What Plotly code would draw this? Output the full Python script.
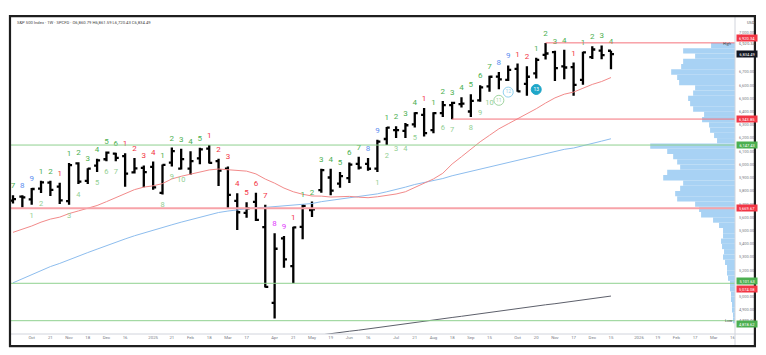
import plotly.graph_objects as go
import pandas as pd

# ---------------- data ----------------
weeks = pd.date_range("2024-09-23", periods=65, freq="7D")

opens = [5727, 5757, 5737, 5817, 5863, 5833, 5723, 6009, 5877, 5992,
         6040, 6083, 6063, 5941, 5974, 5982, 5786, 6014, 5969, 5969,
         6046, 6121, 6026, 5969, 5725, 5635, 5718, 5527, 4953, 5441,
         5232, 5529, 5655, 5807, 5902, 5855, 5897, 6005, 6005, 5969,
         6193, 6260, 6255, 6304, 6376, 6261, 6389, 6449, 6457, 6401,
         6485, 6591, 6665, 6641, 6723, 6610, 6690, 6830, 6850, 6742,
         6737, 6640, 6812, 6862, 6860.79]
highs = [5767, 5767, 5822, 5878, 5878, 5863, 6012, 6017, 5972, 6044,
         6099, 6089, 6085, 6049, 5993, 6022, 6000, 6128, 6120, 6101,
         6127, 6147, 6044, 5986, 5783, 5715, 5786, 5695, 5481, 5459,
         5529, 5700, 5720, 5969, 5968, 5944, 6016, 6059, 6050, 6187,
         6284, 6290, 6315, 6395, 6427, 6395, 6481, 6474, 6509, 6532,
         6600, 6671, 6699, 6750, 6764, 6744, 6807, 6920, 6860, 6869,
         6771, 6853, 6895, 6901, 6861.59]
lows = [5705, 5674, 5696, 5784, 5762, 5702, 5696, 5853, 5853, 5944,
        6024, 6024, 5832, 5932, 5829, 5809, 5773, 5986, 5962, 5923,
        6003, 6008, 5837, 5666, 5505, 5598, 5572, 5069, 4835, 5220,
        5101, 5434, 5603, 5786, 5767, 5824, 5861, 5963, 5953, 5943,
        6147, 6201, 6201, 6281, 6212, 6236, 6360, 6343, 6431, 6360,
        6475, 6551, 6569, 6631, 6550, 6520, 6651, 6795, 6631, 6646,
        6521, 6603, 6799, 6797, 6720.43]
closes = [5738, 5751, 5815, 5865, 5808, 5729, 5996, 5870, 5969, 6032,
          6090, 6051, 5931, 5971, 5942, 5827, 5997, 6101, 6041, 6026,
          6115, 6013, 5955, 5770, 5639, 5668, 5581, 5074, 5363, 5283,
          5525, 5687, 5660, 5958, 5803, 5912, 6000, 5977, 5968, 6173,
          6279, 6260, 6297, 6389, 6238, 6389, 6450, 6467, 6460, 6482,
          6584, 6664, 6644, 6716, 6553, 6664, 6792, 6840, 6729, 6734,
          6603, 6849, 6870, 6827, 6834.49]

ma20 = [5487, 5509, 5535, 5564, 5587, 5602, 5629, 5649, 5669, 5690,
        5719, 5749, 5778, 5810, 5829, 5839, 5856, 5891, 5911, 5928,
        5946, 5959, 5966, 5962, 5953, 5950, 5929, 5890, 5859, 5822,
        5794, 5775, 5762, 5761, 5754, 5759, 5759, 5753, 5749, 5756,
        5764, 5777, 5794, 5825, 5855, 5891, 5934, 6004, 6059, 6119,
        6172, 6221, 6270, 6308, 6345, 6383, 6422, 6465, 6504, 6532,
        6548, 6577, 6606, 6628, 6658]
ma50 = [5105, 5136, 5170, 5200, 5228, 5252, 5281, 5306, 5334, 5360,
        5387, 5412, 5437, 5461, 5483, 5502, 5522, 5544, 5564, 5583,
        5603, 5621, 5637, 5648, 5656, 5665, 5674, 5676, 5682, 5685,
        5691, 5698, 5705, 5719, 5728, 5738, 5749, 5759, 5767, 5778,
        5794, 5810, 5829, 5849, 5863, 5878, 5894, 5915, 5932, 5948,
        5965, 5983, 5999, 6016, 6031, 6050, 6066, 6085, 6101, 6115,
        6125, 6141, 6160, 6177, 6195]
ma200 = [None] * 30 + [4683, 4693, 4701, 4712, 4720, 4730, 4739, 4747, 4757, 4768,
                       4777, 4785, 4796, 4806, 4814, 4824, 4835, 4843, 4852, 4862,
                       4873, 4881, 4890, 4901, 4910, 4918, 4929, 4939, 4947, 4956,
                       4967, 4977, 4985, 4995, 5005]

setup_text = ["7", "8", "9", "1", "2", "1", "1", "2", "3", "4",
              "5", "6", "1", "2", "3", "4", "1", "2", "3", "4",
              "5", "1", "2", "3", "4", "5", "6", "7", "8", "9",
              "1", "1", "2", "3", "4", "5", "6", "7", "8", "9",
              "1", "2", "3", "4", "1", "1", "2", "3", "4", "5",
              "6", "7", "8", "9", "1", "2", "1", "2", "3", "4",
              "1", "1", "2", "3", "4"]
setup_kind = ["g", "b", "b", "g", "g", "r", "g", "g", "g", "g",
              "g", "g", "r", "r", "r", "r", "g", "g", "g", "g",
              "g", "r", "r", "r", "r", "r", "r", "r", "m", "m",
              "r", "g", "g", "g", "g", "g", "g", "g", "b", "b",
              "g", "g", "g", "g", "r", "g", "g", "g", "g", "g",
              "g", "g", "b", "b", "r", "r", "g", "g", "g", "g",
              "r", "g", "g", "g", "g"]

countdown_idx = [2, 3, 6, 7, 9, 10, 11, 16, 17, 18,
                 39, 40, 41, 42, 43, 46, 47, 49, 50, 51]
countdown_txt = ["1", "2", "3", "4", "5", "6", "7", "8", "9", "10",
                 "1", "2", "3", "4", "5", "6", "7", "8", "9", "10"]
circle_idx = [52, 53, 56]
circle_txt = ["11", "12", "13"]

tick_dates = ["2024-10-07", "2024-10-21", "2024-11-04", "2024-11-18", "2024-12-02", "2024-12-16",
              "2025-01-06", "2025-01-20", "2025-02-03", "2025-02-17", "2025-03-03", "2025-03-17",
              "2025-04-07", "2025-04-21", "2025-05-05", "2025-05-19", "2025-06-02", "2025-06-16",
              "2025-07-07", "2025-07-21", "2025-08-04", "2025-08-18", "2025-09-01", "2025-09-15",
              "2025-10-06", "2025-10-20", "2025-11-03", "2025-11-17", "2025-12-01", "2025-12-15",
              "2026-01-05", "2026-01-19", "2026-02-02", "2026-02-16", "2026-03-02", "2026-03-16"]
tick_text = ["Oct", "21", "Nov", "18", "Dec", "16", "2025", "21", "Feb", "18", "Mar", "17",
             "Apr", "21", "May", "19", "Jun", "16", "Jul", "21", "Aug", "18", "Sep", "15",
             "Oct", "20", "Nov", "17", "Dec", "15", "2026", "19", "Feb", "17", "Mar", "16"]

price_ticks = [7000, 6700, 6600, 6500, 6400, 6300, 6200, 6100, 6000, 5900, 5800,
               5700, 5600, 5500, 5400, 5300, 5200, 5000, 4900]

# volume profile (40-pt bins from 4800 up to 6920), relative volume
vp_low_edge = list(range(4800, 6920, 40))
vp_vol = [2, 2, 3, 3, 4, 4, 5, 5, 7, 8,
          8, 10, 12, 11, 13, 14, 12, 12, 16, 22,
          34, 36, 40, 58, 60, 55, 52, 72, 68, 55,
          58, 62, 68, 85, 18, 21, 25, 26, 33, 31,
          42, 45, 47, 42, 40, 56, 58, 64, 54, 52,
          40, 52, 24]

# key levels: (price, colour, width, start week index or None for full width)
level_price = [6920.34, 6343.85, 6147.43, 5669.67, 5101.63, 4818.62]
level_color = ["#f4717b", "#f4717b", "#8fd18f", "#f7a3a9", "#8fd18f", "#8fd18f"]
level_width = [1, 1, 1, 2, 1, 1]
level_start = [57, 47, None, None, None, None]

# price-axis boxes
box_price = [6920.34, 6834.49, 6343.85, 6147.43, 5669.67, 5101.63, 5074.08, 4818.62]
box_text = ["6,920.34", "6,834.49", "6,343.85", "6,147.43", "5,669.67", "5,101.63", "5,074.08", "4,818.62"]
box_color = ["#f23645", "#131722", "#f23645", "#4caf50", "#f23645", "#4caf50", "#f23645", "#4caf50"]
box_shift = [5, 0, 0, 0, 0, 2, -2, -3]

# ---------------- figure ----------------
Y0, Y1 = 4718, 7116
X0, X1 = "2024-09-21 12:00", "2026-03-17 22:00"
PLOT_H = 317
ppp = PLOT_H / (Y1 - Y0)          # pixels per point
pad_up = 9 / ppp
pad_dn = 11 / ppp

fig = go.Figure()

fig.add_trace(go.Bar(
    x=vp_vol, y=[e + 20 for e in vp_low_edge], orientation="h", width=40,
    xaxis="x2", yaxis="y", marker=dict(color="#a8d2f4", line=dict(width=0)),
    hoverinfo="skip"))

fig.add_trace(go.Scatter(x=weeks, y=ma200, mode="lines",
                         line=dict(color="#5d606b", width=1), hoverinfo="skip"))
fig.add_trace(go.Scatter(x=weeks, y=ma50, mode="lines",
                         line=dict(color="#8dbdee", width=1), hoverinfo="skip"))
fig.add_trace(go.Scatter(x=weeks, y=ma20, mode="lines",
                         line=dict(color="#f28a8a", width=1), hoverinfo="skip"))

fig.add_trace(go.Ohlc(
    x=weeks, open=opens, high=highs, low=lows, close=closes,
    increasing=dict(line=dict(color="#000000", width=2.3)),
    decreasing=dict(line=dict(color="#000000", width=2.3)),
    tickwidth=0.32, hoverinfo="skip"))

kind_color = {"g": "#4caf50", "r": "#f23645", "b": "#5b8def", "m": "#e040fb"}
fig.add_trace(go.Scatter(
    x=weeks, y=[h + pad_up for h in highs], mode="text", text=setup_text,
    textfont=dict(color=[kind_color[k] for k in setup_kind], size=8, family="Roboto"),
    textposition="middle center", hoverinfo="skip"))

fig.add_trace(go.Scatter(
    x=[weeks[i] for i in countdown_idx], y=[lows[i] - pad_dn for i in countdown_idx],
    mode="text", text=countdown_txt,
    textfont=dict(color="#93cf93", size=7.5, family="Roboto"),
    textposition="middle center", hoverinfo="skip"))

fig.add_trace(go.Scatter(
    x=[weeks[i] for i in circle_idx], y=[lows[i] - pad_dn for i in circle_idx],
    mode="markers+text", text=circle_txt,
    marker=dict(size=10, color=["rgba(0,0,0,0)", "rgba(0,0,0,0)", "#1fa6c8"],
                line=dict(color=["#9fd49f", "#8fd0ee", "#1fa6c8"], width=1)),
    textfont=dict(color=["#9fd49f", "#8fd0ee", "#ffffff"], size=5, family="Roboto"),
    textposition="middle center", hoverinfo="skip"))

shapes = []
for p, c, w, s in zip(level_price, level_color, level_width, level_start):
    if s is None:
        shapes.append(dict(type="line", xref="paper", yref="y", x0=0, x1=1, y0=p, y1=p,
                           line=dict(color=c, width=w), layer="above"))
    else:
        shapes.append(dict(type="line", xref="x", yref="y", x0=weeks[s], x1=X1, y0=p, y1=p,
                           line=dict(color=c, width=w), layer="above"))
# separators and frame
shapes.append(dict(type="line", xref="paper", yref="paper", x0=1, x1=1, y0=-0.038, y1=1.003,
                   line=dict(color="#d1d4dc", width=1)))
shapes.append(dict(type="line", xref="paper", yref="paper", x0=0, x1=1.0275, y0=0, y1=0,
                   line=dict(color="#d1d4dc", width=1)))
shapes.append(dict(type="rect", xref="paper", yref="paper", x0=-0.0014, x1=1.0275,
                   y0=-0.038, y1=1.003, line=dict(color="#1e1e1e", width=2.2)))

annotations = [
    dict(xref="paper", yref="paper", x=0.005, y=0.983, xanchor="left", yanchor="middle",
         text="S&P 500 Index · 1W · SPCFD · O6,860.79 H6,861.59 L6,720.43 C6,834.49",
         showarrow=False, font=dict(size=4.2, color="#444", family="Roboto")),
    dict(xref="paper", yref="paper", x=1.0, xshift=10, y=0.983, xanchor="left", yanchor="middle",
         text="USD", showarrow=False, font=dict(size=4, color="#555", family="Roboto")),
    dict(xref="paper", yref="y", x=1.0, xshift=-1, y=6920.34, yshift=-1, xanchor="right",
         yanchor="middle", text="High", showarrow=False, font=dict(size=3.8, color="#333")),
    dict(xref="paper", yref="y", x=1.0, xshift=2, y=6920.34, yshift=-1, xanchor="left",
         yanchor="middle", text="6,920.34", showarrow=False, font=dict(size=4, color="#555")),
    dict(xref="paper", yref="y", x=1.0, xshift=-1, y=4835.04, yshift=-2, xanchor="right",
         yanchor="middle", text="Low", showarrow=False, font=dict(size=3.8, color="#333")),
    dict(xref="paper", yref="y", x=1.0, xshift=2, y=4835.04, yshift=-2, xanchor="left",
         yanchor="middle", text="4,835.04", showarrow=False, font=dict(size=4, color="#555")),
]
for p, t, c, s in zip(box_price, box_text, box_color, box_shift):
    annotations.append(dict(xref="paper", yref="y", x=1.0, xshift=1, y=p, yshift=s,
                            xanchor="left", yanchor="middle", text=t, showarrow=False,
                            bgcolor=c, borderpad=0.6, width=19,
                            font=dict(size=4, color="#ffffff", family="Roboto")))

fig.update_layout(
    width=766, height=355,
    margin=dict(l=11, r=29, t=17, b=21, pad=0),
    paper_bgcolor="#ffffff", plot_bgcolor="#ffffff",
    showlegend=False,
    shapes=shapes, annotations=annotations,
    xaxis=dict(type="date", range=[X0, X1], tickvals=tick_dates, ticktext=tick_text,
               tickfont=dict(size=4.3, color="#787b86", family="Roboto"),
               showgrid=False, zeroline=False, showline=False, ticks="",
               rangeslider=dict(visible=False)),
    xaxis2=dict(overlaying="x", range=[726, 0], visible=False, showgrid=False, zeroline=False),
    yaxis=dict(side="right", range=[Y0, Y1], tickvals=price_ticks, tickformat=",.2f",
               tickfont=dict(size=4, color="#787b86", family="Roboto"),
               showgrid=False, zeroline=False, showline=False, ticks="", ticklabelstandoff=3),
)

fig.write_html("out.html")
